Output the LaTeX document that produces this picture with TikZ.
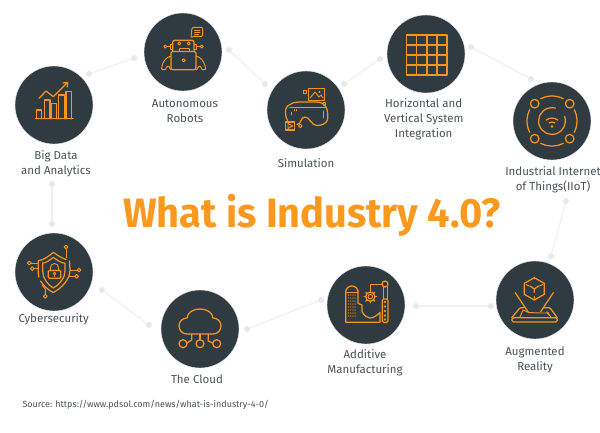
\documentclass[tikz,border=0pt]{standalone}
\usepackage{fontspec}
\setmainfont{Fira Sans}
\newfontfamily\titlefont[FakeStretch=0.97]{Fira Sans Bold}
\definecolor{disc}{HTML}{2F3A41}
\definecolor{ico}{HTML}{F7941D}
\definecolor{ttl}{HTML}{FB991E}
\definecolor{lbl}{HTML}{4A5358}
\definecolor{lnk}{HTML}{EEEFEF}
\definecolor{lnkdot}{HTML}{E6E8E9}
\tikzset{
 disc/.style={circle,fill=disc,draw=disc!10!white,line width=0.4pt,minimum size=78pt,inner sep=0pt},
 lab/.style={align=center,font=\fontsize{11.5}{15}\selectfont,text=lbl,inner sep=0pt},
 pt/.style={circle,fill=lnkdot,minimum size=6pt,inner sep=0pt},
 link/.style={draw=lnk,line width=1.1pt},
 ic/.style={draw=ico,line width=1.25pt,line join=round,line cap=round},
 tn/.style={draw=ico,line width=0.95pt,line join=round,line cap=round},
}
\begin{document}
\begin{tikzpicture}[x=1pt,y=-1pt]
\useasboundingbox (0,0) rectangle (600,432);
\fill[white] (0,0) rectangle (600,432);
% connectors
\node[pt] (a1) at (89,74) {}; \node[pt] (a2) at (134,58) {};
\node[pt] (b1) at (229,50) {}; \node[pt] (b2) at (265,84) {};
\node[pt] (c1) at (344,84) {}; \node[pt] (c2) at (380,59) {};
\node[pt] (d1) at (471,47) {}; \node[pt] (d2) at (531,79) {};
\node[pt] (e1) at (566,201) {}; \node[pt] (e2) at (551,256) {};
\node[pt] (f1) at (491,306) {}; \node[pt] (f2) at (416,306) {};
\node[pt] (g1) at (321,300) {}; \node[pt] (g2) at (247,329) {};
\node[pt] (h1) at (149,325) {}; \node[pt] (h2) at (102,290) {};
\node[pt] (i1) at (52,224) {}; \node[pt] (i2) at (52,184) {};
\draw[link] (a1)--(a2); \draw[link] (b1)--(b2); \draw[link] (c1)--(c2);
\draw[link] (d1)--(d2); \draw[link] (e1)--(e2); \draw[link] (f1)--(f2);
\draw[link] (g1)--(g2); \draw[link] (h1)--(h2); \draw[link] (i1)--(i2);
% discs
\node[disc] (bigdata) at (54,105) {};
\node[disc] (robots) at (183,52) {};
\node[disc] (sim) at (306,110) {};
\node[disc] (horiz) at (426,54) {};
\node[disc] (iiot) at (552,121) {};
\node[disc] (ar) at (535,300) {};
\node[disc] (addit) at (366,305) {};
\node[disc] (cloud) at (200,329) {};
\node[disc] (cyber) at (54,272) {};
% big data icon
\draw[ic] (35.5,118.7)--(73,118.7);
\draw[ic] (36.7,118.7)|-(41.7,110)--(41.7,118.7);
\draw[ic] (44.3,118.7)|-(50,100)--(50,118.7);
\draw[ic] (51.5,118.7)|-(56.7,103.5)--(56.7,118.7);
\draw[ic] (58.7,118.7)|-(64.7,95)--(64.7,118.7);
\draw[ic] (66,118.7)|-(71.7,91.3)--(71.7,118.7);
\draw[ic] (39,98.3)--(46,91)--(53.3,96.7)--(67,83);
\draw[ic] (63,83)--(67.7,82.4)--(67.2,87);
% robot icon
\draw[tn,rounded corners=1.2pt] (193,36.3)--(191,38)--(191.8,29)--(192.5,27.3)--(202.7,27.3)--(202.7,36.3)--cycle;
\draw[tn] (194.5,30)--(200,30) (194.5,32)--(200,32) (194.5,34)--(198.5,34);
\draw[ic,rounded corners=2pt] (172.7,51.3)--(172.7,40.3)--(194,40.3)--(194,51.3);
\draw[tn] (179.3,43.5) circle (1.5) (188.7,43.5) circle (1.5);
\draw[tn] (179,51.3)--(179,48)--(189.5,48)--(189.5,51.3);
\draw[tn] (172.7,44)--(170.5,44)--(170.5,49)--(172.7,49) (194,44)--(196,44)--(196,49)--(194,49);
\draw[tn] (170.5,46.5)--(167,46.5) (196,46.5)--(200,46.5);
\draw[tn] (165.3,46.5) circle (1.5) (201.7,46.5) circle (1.5);
\draw[ic,rounded corners=2pt] (171,69.7)--(171,51.5)--(196,51.5)--(196,69.7)--cycle;
\draw[tn] (183.7,60.3) circle (1.6);
\draw[tn,rounded corners=1pt] (171,56)..controls (166,57) and (163,62)..(162,66)--(161.5,69.7)--(166,69.7)..controls (166,65.5) and (170,65.5)..(170,69.7)--(171,69.7);
\draw[tn,rounded corners=1pt] (196,56)..controls (201,57) and (204,62)..(205,66)--(206,69.7)--(201.5,69.7)..controls (201.5,65.5) and (197.5,65.5)..(197.5,69.7)--(196,69.7);
% simulation icon
\draw[ic] (288,121.5)..controls (286,119) and (285.5,116)..(285.5,110)..controls (285.5,107) and (288,105)..(291,104)..controls (294,102) and (298,102)..(301,102)--(316,102)..controls (320,102) and (324,103)..(326,107)..controls (328,110) and (328,118)..(327.5,120)..controls (326,124) and (321,125.5)..(317,125.5)..controls (311,125.5) and (310,117)..(305,117)..controls (300,117) and (302,124)..(297,124.5);
\draw[ic] (290,107.5)--(326,107.5);
\draw[tn] (323,111)--(323,118) (291,112)--(291,115) (294,109.5)--(294,111) (296.5,109.5)--(296.5,111);
\draw[tn] (308,88.7) rectangle (324.7,100);
\draw[tn] (310,98)--(315,92)--(319,97)--(321,95)--(323,98);
\fill[ico] (319.5,92) circle (1.1);
\draw[tn] (303.5,90.5) rectangle (306,93);
\draw[tn] (323,102.5) rectangle (325.5,105);
\draw[ic] (285.3,122) rectangle (294.7,130);
\draw[tn] (288,123.5)--(292.5,126)--(288,128.5)--cycle;
\draw[tn] (300.3,126) circle (1.8);
% grid icon
\draw[ic] (406.7,35) rectangle (447,75);
\foreach \x in {416.8,426.9,436.9} \draw[ic] (\x,35)--(\x,75);
\foreach \y in {45,55,65} \draw[ic] (406.7,\y)--(447,\y);
% iiot icon
\draw[ic] (534.7,103.7) circle (4.3) (569.7,103.7) circle (4.3) (534.7,138.7) circle (4.3) (569.7,138.7) circle (4.3);
\draw[ic] (552,121) ++(243:25) arc (243:297:25);
\draw[ic] (552,121) ++(63:25) arc (63:117:25);
\draw[ic] (552,121) ++(153:25) arc (153:207:25);
\draw[ic] (552,121) ++(-27:25) arc (-27:27:25);
\draw[ic] (552,121) ++(-20:13.4) arc (-20:285:13.4);
\draw[ic] (552,127) ++(230:9) arc (230:310:9);
\draw[ic] (552,127) ++(235:5) arc (235:305:5);
\fill[ico] (552,126.5) circle (1.4);
% ar icon
\draw[ic] (534.3,277.7)--(544.3,283.3)--(544.3,294.3)--(534.3,300)--(524.3,294.3)--(524.3,283.3)--cycle;
\draw[ic] (534.3,289)--(530,286) (534.3,289)--(538.6,286) (534.3,289)--(534.3,292.5);
\draw[tn] (534.3,296.5)--(534.3,300) (526,284.5)--(529,286) (542.5,284.5)--(539.5,286) (534.3,277.7)--(534.3,279);
\draw[ic] (515.3,292.7)--(528.3,312.3) (553.3,292.7)--(540.7,311.7);
\draw[ic,rounded corners=1pt] (511.7,317.7)--(520,307.8)--(524,307.8) (544.5,307.8)--(550,307.8)--(557.3,317.7);
\draw[ic,rounded corners=1.5pt] (512,317.7)--(557.3,317.7)--(557.3,322)--(512,322)--cycle;
\draw[tn] (520,317)--(523,310)--(529,312.5)--(540,313)--(547,313)--(551,317);
\draw[tn] (546,312)..controls (550,311) and (547,315)..(550,315);
% additive icon
\draw[ic] (358,290)--(358,303.3)--(362,305)--(362,311.7)..controls (367,320) and (372,320)..(380,312.5)--(380,322.3)--(345.7,322.3)--(345.7,292) arc (180:360:6.15 and 6);
\draw[tn] (345.7,292)--(358,292);
\foreach \x in {348.5,350.7,352.9,355.1} \foreach \y in {295,298,301,304,307,310,313,316} \fill[ico] (\x,\y) circle (0.65);
\draw[ic] (370.3,296.7) circle (4.6);
\draw[tn] (370.3,296.7) circle (2.3);
\foreach \a in {0,45,...,315} \draw[ic] (370.3,296.7) ++(\a:4.6)--++(\a:1.6);
\draw[tn] (370,290)--(370,284)--(382,284);
\draw[ic] (385,284) circle (3);
\draw[ic,rounded corners=1.5pt] (382.3,299)rectangle(388,322.5);
\draw[tn] (383,287)--(383,299) (387,287)--(387,299);
\foreach \y in {302,306.5,311,315.5,319.5} \draw[tn] (385,\y) circle (0.8);
% cloud icon
\draw[ic] (191,334)--(187,334) arc (90:270:8) ..controls (188,306) and (212,306)..(213,318) arc (270:450:8)--(191,334);
\draw[ic] (183,343.7) circle (4) (200,343.7) circle (4) (216.7,343.7) circle (4);
\draw[ic] (191.7,334)--(191.7,340)--(187,343);
\draw[ic] (200,334)--(200,339.7);
\draw[ic] (208.3,334)--(208.3,341)--(212.7,343);
% shield icon
\draw[ic] (38.3,260.7)..controls (44,260) and (49,256)..(53.3,252.3)..controls (58,256) and (64,259)..(66,259.5) (69.5,261)--(70,270)..controls (70,279) and (62,288)..(53.3,292.5)..controls (48,290) and (44,286)..(40.5,281) (38.8,277)..controls (38,272) and (38.3,266)..(38.3,260.7);
\draw[ic] (42.7,263)..controls (46,263) and (50,260)..(53.3,257.3)..controls (57,260) and (61,263)..(65,263.3)--(65,271)..controls (65,278) and (60,284)..(53.3,288)..controls (47,284) and (42.7,278)..(42.7,271)--cycle;
\draw[ic,rounded corners=1pt] (48.3,270.5) rectangle (60.7,278.3);
\draw[tn] (50.5,270.5)--(50.5,267.5) arc (180:360:4) -- (58.5,270.5);
\draw[tn] (54.5,273.5) circle (1.2) (54.5,274.7)--(54.5,276.5);
\draw[tn] (66,249)--(66,258); \draw[tn] (66,247) circle (1.9);
\draw[tn] (31.2,263)--(38,263); \draw[tn] (29.3,263) circle (1.9);
\draw[tn] (34.2,268.7)--(38.5,268.7); \draw[tn] (32.3,268.7) circle (1.9);
\draw[tn] (77.1,270)--(70.5,270); \draw[tn] (79,270) circle (1.9);
\draw[tn] (74.8,276.3)--(69,276.3); \draw[tn] (76.7,276.3) circle (1.9);
\draw[tn] (45.3,294.4)--(45.3,289)--(42,285); \draw[tn] (45.3,296.3) circle (1.9);
% labels
\node[lab] (lbd) at (56,164) {Big Data\\and Analytics};
\node[lab] (lr) at (185,111) {Autonomous\\Robots};
\node[lab] (ls) at (306,163.5) {Simulation};
\node[lab] (lh) at (423.7,119.5) {Horizontal and\\Vertical System\\Integration};
\node[lab] (li) at (553,180) {Industrial Internet\\of Things(IIoT)};
\node[lab] (la) at (535,359.5) {Augmented\\Reality};
\node[lab] (lm) at (365,363) {Additive\\Manufacturing};
\node[lab] (lc) at (197,379.5) {The Cloud};
\node[lab] (lcy) at (53.7,319.5) {Cybersecurity};
\node[lab,anchor=west,font=\fontsize{9}{12}\selectfont] (src) at (22.3,405) {Source: https://www.pdsol.com/news/what-is-industry-4-0/};
\node[anchor=base,text=ttl,inner sep=0pt,font=\titlefont\fontsize{41}{48}\selectfont] (title) at (312,227) {What is Industry 4.0?};
\end{tikzpicture}
\end{document}
